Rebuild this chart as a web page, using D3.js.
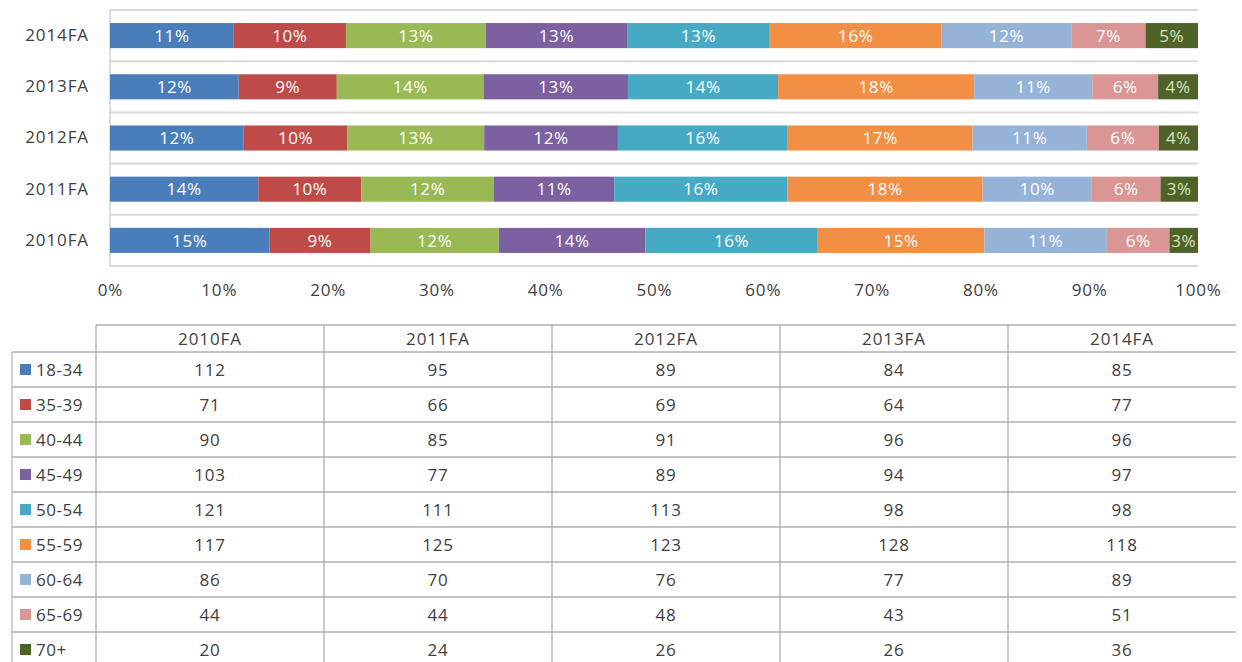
<!DOCTYPE html>
<html>
<head>
<meta charset="utf-8">
<script src="https://cdn.jsdelivr.net/npm/d3@7"></script>
<style>
  body { margin: 0; background: #fff; }
  svg { display: block; font-family: "Open Sans", sans-serif; }
</style>
</head>
<body>
<svg id="chart" width="1242" height="662"></svg>
<script>
// years (bar rows / table columns)
const years = ['2010FA', '2011FA', '2012FA', '2013FA', '2014FA'];
const ageGroups = ['18-34', '35-39', '40-44', '45-49', '50-54', '55-59', '60-64', '65-69', '70+'];

// counts per age group, one value per year (same order as years)
const counts = [
	[112, 95, 89, 84, 85],
	[71, 66, 69, 64, 77],
	[90, 85, 91, 96, 96],
	[103, 77, 89, 94, 97],
	[121, 111, 113, 98, 98],
	[117, 125, 123, 128, 118],
	[86, 70, 76, 77, 89],
	[44, 44, 48, 43, 51],
	[20, 24, 26, 26, 36]
];

// percent labels as printed on the bars (per year, per age group)
const pctLabels = [
	[15, 9, 12, 14, 16, 15, 11, 6, 3],
	[14, 10, 12, 11, 16, 18, 10, 6, 3],
	[12, 10, 13, 12, 16, 17, 11, 6, 4],
	[12, 9, 14, 13, 14, 18, 11, 6, 4],
	[11, 10, 13, 13, 13, 16, 12, 7, 5]
];

const xTicks = [0, 0.1, 0.2, 0.3, 0.4, 0.5, 0.6, 0.7, 0.8, 0.9, 1];

const colors = ['#4a7ebb', '#be4b48', '#98b954', '#7d60a0', '#46aac5', '#f38e45', '#95b3d7', '#d99694', '#4f6228'];

const textColor = '#404040';
const fs = 17;
const svg = d3.select('#chart');

// ---- stacked 100% bars ----
const rows = years.map((yr, i) => {
	const row = { year: yr };
	ageGroups.forEach((g, j) => (row[g] = counts[j][i]));
	return row;
});

const stack = d3.stack().keys(ageGroups).offset(d3.stackOffsetExpand);
const series = stack(rows);

const x = d3.scaleLinear().domain([0, 1]).range([110, 1198]);
const y = d3.scaleBand()
	.domain(years.slice().reverse())
	.range([10, 266])
	.paddingInner(0.51)
	.paddingOuter(0.255);

const step = y.step();
const gridYs = y.domain().map((d) => y(d) - (step - y.bandwidth()) / 2).concat([266]);

svg.append('g')
	.selectAll('line')
	.data(gridYs)
	.join('line')
	.attr('x1', 110)
	.attr('x2', 1198)
	.attr('y1', (d) => d)
	.attr('y2', (d) => d)
	.attr('stroke', '#d9d9d9')
	.attr('stroke-width', 2);

svg.append('line')
	.attr('x1', 110).attr('x2', 110)
	.attr('y1', 10).attr('y2', 266)
	.attr('stroke', '#d0d0d0')
	.attr('stroke-width', 1.5);

const layer = svg.append('g')
	.selectAll('g')
	.data(series)
	.join('g')
	.attr('fill', (d, i) => colors[i]);

layer.selectAll('rect')
	.data((d) => d)
	.join('rect')
	.attr('x', (d) => x(d[0]))
	.attr('width', (d) => x(d[1]) - x(d[0]))
	.attr('y', (d) => y(d.data.year))
	.attr('height', y.bandwidth());

layer.selectAll('text')
	.data((d, j) => d.map((v, i) => ({ v, j, label: pctLabels[i][j] })))
	.join('text')
	.attr('x', (d) => (x(d.v[0]) + x(d.v[1])) / 2)
	.attr('y', (d) => y(d.v.data.year) + y.bandwidth() / 2)
	.attr('dy', '0.36em')
	.attr('text-anchor', 'middle')
	.attr('fill', (d) => (d.j === 8 ? '#d7e4bd' : '#ffffff'))
	.attr('font-size', fs)
	.attr('letter-spacing', 0.6)
	.text((d) => d.label + '%');

// axes
const yAxis = svg.append('g')
	.attr('transform', 'translate(110,0)')
	.call(d3.axisLeft(y).tickSize(0).tickPadding(21));
yAxis.select('.domain').remove();
yAxis.selectAll('text')
	.attr('font-size', fs)
	.attr('letter-spacing', 0.9)
	.attr('fill', textColor)
	.attr('font-family', '"Open Sans", sans-serif');

const xAxis = svg.append('g')
	.attr('transform', 'translate(0,266)')
	.call(d3.axisBottom(x).tickValues(xTicks).tickFormat(d3.format('.0%')).tickSize(0).tickPadding(18));
xAxis.select('.domain').remove();
xAxis.selectAll('text')
	.attr('font-size', fs)
	.attr('letter-spacing', 0.8)
	.attr('fill', textColor)
	.attr('font-family', '"Open Sans", sans-serif');

// ---- data table ----
const col = d3.scaleBand().domain(years).range([96, 1236]);
const headTop = 325;
const headBottom = 352;
const rowH = 35;
const rowY = d3.scaleBand().domain(ageGroups).range([headBottom, headBottom + rowH * ageGroups.length]);

const table = svg.append('g');

// horizontal rules
table.append('line')
	.attr('x1', 96).attr('x2', 1236)
	.attr('y1', headTop).attr('y2', headTop)
	.attr('stroke', '#c4c4c4').attr('stroke-width', 2);

table.selectAll('line.hr')
	.data(ageGroups)
	.join('line')
	.attr('class', 'hr')
	.attr('x1', 12).attr('x2', 1236)
	.attr('y1', (d) => rowY(d)).attr('y2', (d) => rowY(d))
	.attr('stroke', '#c4c4c4').attr('stroke-width', 2);

// vertical rules
table.append('line')
	.attr('x1', 12).attr('x2', 12)
	.attr('y1', headBottom).attr('y2', 662)
	.attr('stroke', '#b5b5b5').attr('stroke-width', 1.2);

table.selectAll('line.vr')
	.data(years)
	.join('line')
	.attr('class', 'vr')
	.attr('x1', (d) => col(d)).attr('x2', (d) => col(d))
	.attr('y1', headTop).attr('y2', 662)
	.attr('stroke', '#a8a8a8').attr('stroke-width', 1.2);

// header
table.selectAll('text.head')
	.data(years)
	.join('text')
	.attr('class', 'head')
	.attr('x', (d) => col(d) + col.bandwidth() / 2)
	.attr('y', (headTop + headBottom) / 2)
	.attr('dy', '0.36em')
	.attr('text-anchor', 'middle')
	.attr('font-size', fs)
	.attr('letter-spacing', 0.9)
	.attr('fill', textColor)
	.text((d) => d);

// legend column
const legendRows = table.selectAll('g.leg')
	.data(ageGroups)
	.join('g')
	.attr('class', 'leg')
	.attr('transform', (d) => `translate(0,${rowY(d) + rowH / 2})`);

legendRows.append('rect')
	.attr('x', 20).attr('y', -5.5)
	.attr('width', 11).attr('height', 11)
	.attr('fill', (d, i) => colors[i]);

legendRows.append('text')
	.attr('x', 36)
	.attr('dy', '0.36em')
	.attr('font-size', fs)
	.attr('letter-spacing', 0.5)
	.attr('fill', textColor)
	.text((d) => d);

// values
ageGroups.forEach((g, j) => {
	table.append('g')
		.selectAll('text')
		.data(counts[j])
		.join('text')
		.attr('x', (d, i) => col(years[i]) + col.bandwidth() / 2)
		.attr('y', rowY(g) + rowH / 2)
		.attr('dy', '0.36em')
		.attr('text-anchor', 'middle')
		.attr('font-size', fs)
		.attr('letter-spacing', 0.8)
		.attr('fill', textColor)
		.text((d) => d);
});
</script>
</body>
</html>
